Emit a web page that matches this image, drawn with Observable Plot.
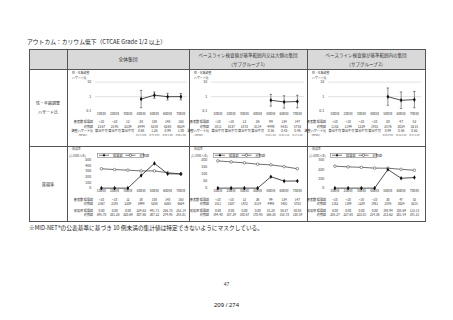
<!DOCTYPE html>
<html><head><meta charset="utf-8">
<script src="https://cdn.jsdelivr.net/npm/d3@7"></script>
<script src="https://cdn.jsdelivr.net/npm/@observablehq/plot@0.6"></script>
<style>
html,body{margin:0;padding:0;background:#fff}
body{width:453px;height:320px;position:relative;overflow:hidden}
#stage{position:absolute;left:0;top:0;width:1812px;height:1280px;transform:scale(0.25);transform-origin:0 0;font-family:"Noto Sans CJK JP","Noto Sans",sans-serif;color:#333}
.a{position:absolute;white-space:nowrap}
.hl{position:absolute;height:4px;background:#555}
.vl{position:absolute;width:4px;background:#555}
svg{overflow:visible}
</style></head>
<body><div id="stage"></div>
<script>
// ---------------- data ----------------
const titleText = "アウトカム：カリウム低下（CTCAE Grade 1/2 以上）";
const columnHeaders = [
  ["全体集団"],
  ["ベースライン検査値が基準範囲内又は大側の集団", "（サブグループ 1）"],
  ["ベースライン検査値が基準範囲内の集団", "（サブグループ 2）"]
];
const rowHeaders = [["性・年齢調整", "ハザード比"], ["発現率"]];
const days = ["100日", "200日", "300日", "400日", "500日", "600日", "700日"];
const hrTicks = [0.1, 1, 10];
const legendLabels = ["曝露群", "対照群"];
const hrRowLabels = ["患者数 曝露群", "対照群", "調整ハザード比", "(95%CI)"];
const rateRowLabels = ["患者数 曝露群", "対照群", "", "発現率 曝露群", "対照群"];
const footnote = "※MID-NET®の公表基準に基づき 10 例未満の集計値は特定できないようにマスクしている。";
const pageNo = "47";
const pageOf = "209 / 274";

// panel 1: 全体集団
const nExp1 = ["<10", "<10", "12", "38", "108", "148", "163"];
const nCtl1 = ["2167", "2195", "2239", "3494", "5258", "6265", "6624"];
const hr1 = [null, null, null, 0.68, 1.26, 0.99, 1.00];
const hrLo1 = [null, null, null, 0.17, 0.77, 0.58, 0.60];
const hrHi1 = [null, null, null, 2.69, 2.07, 1.69, 1.66];
const rateExp1 = [0.00, 0.00, 0.00, 224.63, 441.71, 256.73, 252.14];
const rateCtl1 = [345.70, 331.26, 320.69, 307.66, 307.22, 274.95, 255.01];
const rateTicks1 = [0, 100, 200, 300, 400, 500];

// panel 2: サブグループ 1
const nExp2 = ["<10", "<10", "12", "36", "99", "134", "147"];
const nCtl2 = ["1811", "1837", "1872", "3114", "4498", "5431", "5753"];
const hr2 = [null, null, null, null, 0.56, 0.43, 0.46];
const hrLo2 = [null, null, null, null, 0.22, 0.16, 0.17];
const hrHi2 = [null, null, null, null, 1.42, 1.15, 1.24];
const rateExp2 = [0.00, 0.00, 0.00, 0.00, 81.28, 50.37, 50.88];
const rateCtl2 = [194.40, 187.29, 180.67, 170.93, 166.38, 153.73, 138.59];
const rateTicks2 = [0, 50, 100, 150, 200];

// panel 3: サブグループ 2
const nExp3 = ["<10", "<10", "<10", "<10", "30", "47", "52"];
const nCtl3 = ["1182", "1199", "1229", "1931", "2576", "3024", "3215"];
const hr3 = [null, null, null, null, 0.99, 0.56, 0.62];
const hrLo3 = [null, null, null, null, 0.25, 0.15, 0.17];
const hrHi3 = [null, null, null, null, 3.94, 2.10, 2.28];
const rateExp3 = [0.00, 0.00, 0.00, 0.00, 198.94, 105.69, 113.15];
const rateCtl3 = [235.27, 227.65, 223.01, 214.36, 213.62, 201.54, 191.31];
const rateTicks3 = [0, 100, 200, 300];

const panelData = [
  {nExp: nExp1, nCtl: nCtl1, hr: hr1, lo: hrLo1, hi: hrHi1, rExp: rateExp1, rCtl: rateCtl1, ticks: rateTicks1},
  {nExp: nExp2, nCtl: nCtl2, hr: hr2, lo: hrLo2, hi: hrHi2, rExp: rateExp2, rCtl: rateCtl2, ticks: rateTicks2},
  {nExp: nExp3, nCtl: nCtl3, hr: hr3, lo: hrLo3, hi: hrHi3, rExp: rateExp3, rCtl: rateCtl3, ticks: rateTicks3}
];

// ---------------- layout (page pixels; drawn at 4x then scaled down) ----------------
const S = 4;
const T = {left: 29, right: 425, top: 49, headBottom: 69, mid: 146, bottom: 221};
const colX = [67, 189, 307];
const panels = [
  {left: 67, right: 189, plotL: 95, plotR: 187},
  {left: 189, right: 307, plotL: 211, plotR: 304},
  {left: 307, right: 425, plotL: 328, plotR: 421}
];
const FONT = '"Noto Sans CJK JP","Noto Sans",sans-serif';
const INK = "#222";
const px = v => (v * S) + "px";

const stage = document.getElementById("stage");
function el(cls, css, text, parent = stage) {
  const d = document.createElement("div");
  d.className = cls;
  Object.assign(d.style, css);
  if (text != null) d.textContent = text;
  parent.appendChild(d);
  return d;
}
function textAt(x, yc, size, text, align = "left", extra = {}) {
  const css = {top: px(yc - size / 2), fontSize: px(size), lineHeight: px(size), ...extra};
  if (align === "left") css.left = px(x);
  else if (align === "center") { css.left = px(x); css.transform = "translateX(-50%)"; }
  else { css.right = px(453 - x); }
  return el("a", css, text);
}

// title
textAt(27, 42, 5.8, titleText, "left", {color: "#222"});

// header fill
el("a", {left: px(T.left), top: px(T.top), width: px(T.right - T.left), height: px(T.headBottom - T.top), background: "#d9d9d9"});
// grid lines
for (const y of [T.top, T.headBottom, T.mid, T.bottom])
  el("hl", {left: px(T.left), top: px(y), width: px(T.right - T.left + 1)});
for (const x of [T.left, ...colX, T.right])
  el("vl", {left: px(x), top: px(T.top), height: px(T.bottom - T.top)});

// column headers
panels.forEach((p, i) => {
  const cx = (p.left + p.right) / 2;
  const lines = columnHeaders[i];
  if (lines.length === 1) textAt(cx, 59, 4.8, lines[0], "center");
  else { textAt(cx, 55, 4.5, lines[0], "center"); textAt(cx, 63.5, 4.5, lines[1], "center"); }
});
// row headers
textAt(48, 102.7, 4, rowHeaders[0][0], "center");
textAt(48, 111.7, 4, rowHeaders[0][1], "center");
textAt(48, 184, 4.2, rowHeaders[1][0], "center");

function place(node, x, y) {
  const w = document.createElement("div");
  w.className = "a";
  w.style.left = px(x); w.style.top = px(y);
  w.appendChild(node);
  stage.appendChild(w);
}

const xScale = {type: "point", domain: days, padding: 0.45};
const fs = v => (v * S) + "px";
const baseStyle = {fontSize: fs(3.5), fontFamily: FONT, color: "#333", background: "none", overflow: "visible"};

panels.forEach((p, i) => {
  const d = panelData[i];
  const W = (p.right - p.left) * S;
  const mL = (p.plotL - p.left) * S, mR = (p.right - p.plotR) * S;
  const rows = days.map((day, k) => ({day, hr: d.hr[k], lo: d.lo[k], hi: d.hi[k], rExp: d.rExp[k], rCtl: d.rCtl[k]}));
  const hrPts = rows.filter(r => r.hr != null);

  // labels in cell
  textAt(p.left + 5, 73, 2.9, "性・年齢調整", "left", {color: "#444"});
  textAt(p.left + 5, 77.5, 2.9, "ハザード比", "left", {color: "#444"});
  textAt(p.left + 5, 149, 2.9, "発現率", "left", {color: "#444"});
  textAt(p.left + 2, 155.5, 2.9, "(1/1000人年)", "left", {color: "#444"});

  // hazard ratio chart
  const hz = Plot.plot({
    width: W, height: 47 * S, marginLeft: mL, marginRight: mR, marginTop: 12 * S, marginBottom: 6 * S,
    style: baseStyle,
    x: {...xScale, label: null, tickSize: 0, tickPadding: 1.6 * S},
    y: {type: "log", domain: [0.1, 10], ticks: hrTicks, tickFormat: v => String(v), label: null, tickSize: 0, tickPadding: 4 * S},
    marks: [
      Plot.ruleY(hrTicks.slice(1), {stroke: "#cfcfcf", strokeWidth: 0.6 * S}),
      Plot.ruleX(hrPts, {x: "day", y1: "lo", y2: "hi", stroke: INK, strokeWidth: 0.5 * S}),
      Plot.ruleY(hrPts, {y: "lo", x1: "day", x2: "day", insetLeft: -1.2 * S, insetRight: -1.2 * S, stroke: INK, strokeWidth: 0.5 * S}),
      Plot.ruleY(hrPts, {y: "hi", x1: "day", x2: "day", insetLeft: -1.2 * S, insetRight: -1.2 * S, stroke: INK, strokeWidth: 0.5 * S}),
      Plot.line(hrPts, {x: "day", y: "hr", stroke: INK, strokeWidth: 0.8 * S}),
      Plot.dot(hrPts, {x: "day", y: "hr", symbol: "diamond", fill: "#111", r: 1.4 * S})
    ]
  });
  place(hz, p.left, 70);

  // hazard table
  const hrCells = [];
  days.forEach((day, k) => {
    hrCells.push({day, row: hrRowLabels[0], t: d.nExp[k]});
    hrCells.push({day, row: hrRowLabels[1], t: d.nCtl[k]});
    hrCells.push({day, row: hrRowLabels[2], t: d.hr[k] == null ? "算出不可" : d.hr[k].toFixed(2)});
  });
  const ciCells = hrPts.map(r => ({day: r.day, row: hrRowLabels[3], t: `(${r.lo.toFixed(2)}-${r.hi.toFixed(2)})`}));
  const hzTab = Plot.plot({
    width: W, height: 23 * S, marginLeft: mL, marginRight: mR, marginTop: 3 * S, marginBottom: 3 * S,
    style: baseStyle,
    x: {...xScale, axis: null},
    y: {type: "point", domain: hrRowLabels, axis: null},
    marks: [
      Plot.text(hrCells, {x: "day", y: "row", text: "t", fill: "#333", fontSize: 3.2 * S}),
      Plot.text(ciCells, {x: "day", y: "row", text: "t", fill: "#444", fontSize: 2.2 * S}),
      Plot.text(hrRowLabels.slice(0, 3).map(r => ({row: r})), {y: "row", text: "row", frameAnchor: "left", textAnchor: "end", dx: -2 * S, fill: "#333", fontSize: 3.1 * S}),
      Plot.text([{row: hrRowLabels[3]}], {y: "row", text: "row", frameAnchor: "left", textAnchor: "end", dx: -8 * S, fill: "#444", fontSize: 2.4 * S})
    ]
  });
  place(hzTab, p.left, 117);

  // incidence chart
  const yMax = d.ticks[d.ticks.length - 1];
  const inc = Plot.plot({
    width: W, height: 48 * S, marginLeft: mL, marginRight: mR, marginTop: 14 * S, marginBottom: 6 * S,
    style: baseStyle,
    x: {...xScale, label: null, tickSize: 0, tickPadding: 1.6 * S},
    y: {domain: [0, yMax], ticks: d.ticks, label: null, tickSize: 0, tickPadding: 4 * S},
    marks: [
      Plot.line(rows, {x: "day", y: "rCtl", stroke: "#333", strokeWidth: 0.7 * S}),
      Plot.dot(rows, {x: "day", y: "rCtl", r: 1.3 * S, fill: "white", stroke: "#333", strokeWidth: 0.5 * S}),
      Plot.line(rows, {x: "day", y: "rExp", stroke: INK, strokeWidth: 0.8 * S}),
      Plot.dot(rows, {x: "day", y: "rExp", symbol: "diamond", fill: "#111", r: 1.4 * S})
    ]
  });
  place(inc, p.left, 146);

  // incidence table
  const rCells = [];
  days.forEach((day, k) => {
    rCells.push({day, row: 0, t: d.nExp[k]});
    rCells.push({day, row: 1, t: d.nCtl[k]});
    rCells.push({day, row: 3, t: d.rExp[k].toFixed(2)});
    rCells.push({day, row: 4, t: d.rCtl[k].toFixed(2)});
  });
  const rowIdx = [0, 1, 2, 3, 4];
  const incTab = Plot.plot({
    width: W, height: 27 * S, marginLeft: mL, marginRight: mR, marginTop: 3.7 * S, marginBottom: 4.3 * S,
    style: baseStyle,
    x: {...xScale, axis: null},
    y: {type: "point", domain: rowIdx, axis: null},
    marks: [
      Plot.text(rCells, {x: "day", y: "row", text: "t", fill: "#333", fontSize: 3.1 * S}),
      Plot.text(rowIdx.filter(r => rateRowLabels[r]).map(r => ({row: r, t: rateRowLabels[r]})), {y: "row", text: "t", frameAnchor: "left", textAnchor: "end", dx: -2 * S, fill: "#333", fontSize: 3.1 * S})
    ]
  });
  place(incTab, p.left, 194);

  // legend box
  const lg = el("a", {left: px(p.plotL + 2), top: px(153), width: px(47), height: px(4.6), border: px(0.6) + " solid #666", display: "flex", alignItems: "center", gap: px(3), paddingLeft: px(1.5), fontSize: px(3.2), lineHeight: px(3.2), color: "#333", background: "#fff", boxSizing: "border-box"});
  legendLabels.forEach((lab, j) => {
    const s = document.createElementNS("http://www.w3.org/2000/svg", "svg");
    s.setAttribute("width", 10 * S); s.setAttribute("height", 4 * S);
    s.setAttribute("viewBox", "0 0 10 4");
    s.innerHTML = `<line x1="0" y1="2" x2="10" y2="2" stroke="#222" stroke-width="0.6"/>` +
      (j === 0 ? `<path d="M5,0.6 L6.3,2 L5,3.4 L3.7,2 Z" fill="#111"/>` : `<circle cx="5" cy="2" r="1.2" fill="#fff" stroke="#222" stroke-width="0.5"/>`);
    lg.appendChild(s);
    const sp = document.createElement("span");
    sp.textContent = lab;
    sp.style.marginLeft = px(1);
    lg.appendChild(sp);
  });
});

// footnote and page numbers
textAt(29, 227.5, 5.7, footnote, "left", {color: "#222"});
textAt(226.5, 284, 5, pageNo, "center", {fontFamily: '"Liberation Sans",Arial,sans-serif', color: "#333"});
textAt(226.5, 305, 6, pageOf, "center", {fontFamily: '"Liberation Sans",Arial,sans-serif', color: "#111"});
</script>
</body></html>
